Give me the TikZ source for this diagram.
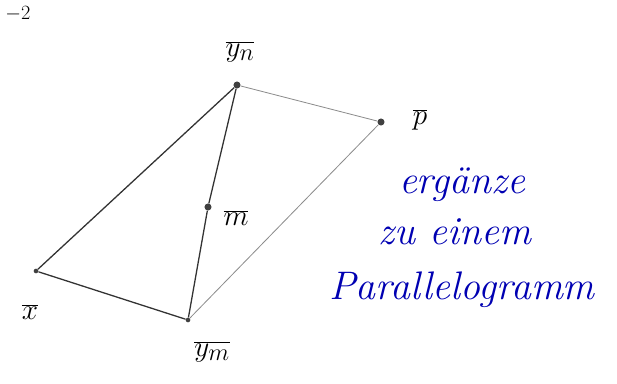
\documentclass[tikz,border=0pt]{standalone}
\usepackage{fontspec}
\begin{document}
\begin{tikzpicture}[x=0.03cm,y=-0.03cm,
  pt/.style={circle,fill=black!75,inner sep=0pt,minimum size=6pt},
  lbl/.style={font=\fontsize{28}{32}\selectfont,inner sep=0pt},
  dark/.style={line width=1.1pt,black!80},
  light/.style={line width=0.7pt,black!45},
  note/.style={font=\fontsize{34}{40}\selectfont\itshape,text=blue!70!black,inner sep=0pt}]
\useasboundingbox (0,0) rectangle (617,383);
\node[pt] (yn) at (237,85) {};
\node[pt] (p) at (381,122) {};
\node[pt] (m) at (208,207) {};
\node[pt,minimum size=4pt] (x) at (36,271) {};
\node[pt,minimum size=4pt] (ym) at (188,320) {};
\node[lbl] (lyn) at (240,52) {$\overline{y_n}$};
\node[lbl] (lp) at (420,120) {$\overline{p}$};
\node[lbl] (lm) at (236,218) {$\overline{m}$};
\node[lbl] (lx) at (30,312) {$\overline{x}$};
\node[lbl] (lym) at (212,352) {$\overline{y_m}$};
\node[lbl,font=\fontsize{18}{22}\selectfont] (m2) at (18,14) {$-2$};
\draw[dark] (x) -- (yn);
\draw[dark] (x) -- (ym);
\draw[dark] (yn) -- (m) -- (ym);
\draw[light] (yn) -- (p);
\draw[light] (p) -- (ym);
\node[note] (t1) at (462,185) {ergänze};
\node[note] (t2) at (455,232) {zu einem};
\node[note] (t3) at (462,290) {Parallelogramm};
\end{tikzpicture}
\end{document}
